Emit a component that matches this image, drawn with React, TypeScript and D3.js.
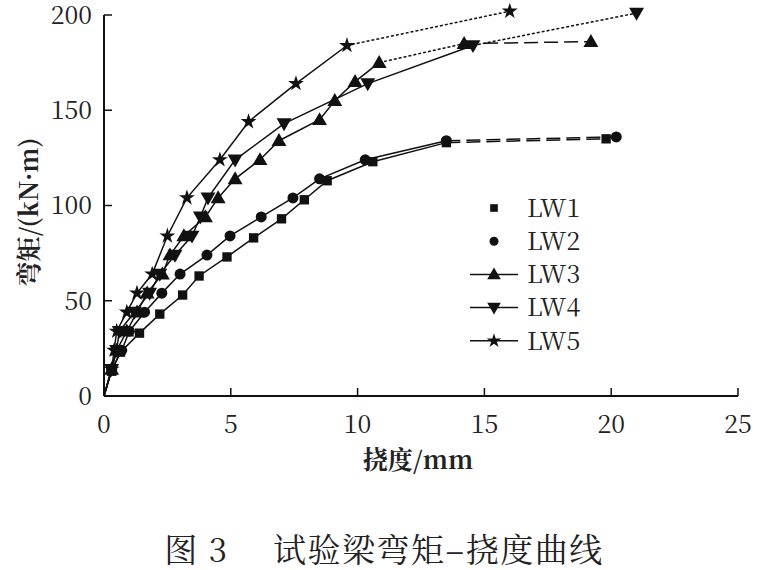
import React from "react";
import * as d3 from "d3";

const seriesNames = ["LW1", "LW2", "LW3", "LW4", "LW5"];
const markerTypes = ["square", "circle", "triangle", "invtriangle", "star"];

const lw1: [number, number][] = [[0, 0], [0.3, 13], [0.65, 23], [1.4, 33], [2.2, 43], [3.1, 53], [3.75, 63], [4.85, 73], [5.9, 83], [7.0, 93], [7.9, 103], [8.8, 113], [10.6, 123], [13.5, 133], [19.8, 135]];
const lw2: [number, number][] = [[0, 0], [0.3, 14], [0.7, 24], [1.0, 34], [1.6, 44], [2.28, 54], [3.0, 64], [4.06, 74], [4.97, 84], [6.2, 94], [7.45, 104], [8.5, 114], [10.3, 124], [13.5, 134], [20.2, 136]];
const lw3: [number, number][] = [[0, 0], [0.3, 14], [0.5, 24], [0.9, 34], [1.3, 44], [1.7, 54], [2.3, 64], [2.6, 74], [3.15, 84], [4.0, 94], [4.5, 104], [5.17, 114], [6.15, 124], [6.9, 134], [8.5, 145], [9.1, 155], [9.9, 165], [10.85, 175], [14.2, 185], [19.2, 186]];
const lw4: [number, number][] = [[0, 0], [0.3, 14], [0.5, 24], [0.6, 34], [1.2, 44], [1.8, 54], [2.2, 64], [2.8, 74], [3.47, 84], [3.8, 94], [4.1, 104], [5.17, 124], [7.1, 143], [10.4, 164], [14.55, 184], [21.0, 201]];
const lw5: [number, number][] = [[0, 0], [0.3, 14], [0.4, 24], [0.5, 34], [0.9, 44], [1.3, 54], [1.9, 64], [2.5, 84], [3.27, 104], [4.57, 124], [5.7, 144], [7.57, 164], [9.58, 184], [16.0, 202]];
const seriesData = [lw1, lw2, lw3, lw4, lw5];
// dash styles of the final segments, in order
const tailStyles: string[][] = [
  ["14 6"],
  ["14 6"],
  ["3 2", "14 6"],
  ["3 2"],
  ["3 2"],
];

const xTicks = [0, 5, 10, 15, 20, 25];
const yTicks = [0, 50, 100, 150, 200];

const xTitle = "挠度/mm";
const yTitle = "弯矩/(kN·m)";
const caption = "图 3　 试验梁弯矩–挠度曲线";

const serif = '"Noto Serif CJK SC", "Liberation Serif", serif';

function Marker({ type, x, y, s = 5.5 }: { type: string; x: number; y: number; s?: number }) {
  if (type === "square") return <rect x={x - s * 0.85} y={y - s * 0.85} width={s * 1.7} height={s * 1.7} fill="#111" />;
  if (type === "circle") return <circle cx={x} cy={y} r={s} fill="#111" />;
  if (type === "triangle") {
    const p = d3.symbol(d3.symbolTriangle, s * s * 3.2)();
    return <path d={p || ""} transform={`translate(${x},${y + 1})`} fill="#111" />;
  }
  if (type === "invtriangle") {
    const p = d3.symbol(d3.symbolTriangle, s * s * 3.2)();
    return <path d={p || ""} transform={`translate(${x},${y - 1}) rotate(180)`} fill="#111" />;
  }
  const p = d3.symbol(d3.symbolStar, s * s * 2.6)();
  return <path d={p || ""} transform={`translate(${x},${y})`} fill="#111" />;
}

export default function App() {
  const W = 760, H = 570;
  const x = d3.scaleLinear().domain([0, 25]).range([104, 738]);
  const y = d3.scaleLinear().domain([0, 200]).range([396, 15]);
  const line = d3.line<[number, number]>().x((d) => x(d[0])).y((d) => y(d[1]));
  const tf = { fontFamily: serif };

  return (
    <svg width={W} height={H} style={{ position: "absolute", left: 0, top: 0, background: "#fff" }}>
      {seriesData.map((data, si) => {
        const tails = tailStyles[si];
        const nSolid = data.length - tails.length;
        const solid = data.slice(0, nSolid);
        return (
          <g key={si}>
            <path d={line(solid) || ""} fill="none" stroke="#111" strokeWidth={1.5} />
            {tails.map((dash, ti) => {
              const a = data[nSolid - 1 + ti];
              const b = data[nSolid + ti];
              return <path key={ti} d={line([a, b]) || ""} fill="none" stroke="#111" strokeWidth={1.5} strokeDasharray={dash} />;
            })}
          </g>
        );
      })}
      {seriesData.map((data, si) => (
        <g key={"m" + si}>
          {data.slice(1).map((d, i) => (
            <Marker key={i} type={markerTypes[si]} x={x(d[0])} y={y(d[1])} />
          ))}
        </g>
      ))}

      <line x1={x(0)} x2={x(0)} y1={y(200)} y2={y(0)} stroke="#111" strokeWidth={2} />
      <line x1={x(0)} x2={x(25)} y1={y(0)} y2={y(0)} stroke="#111" strokeWidth={2} />
      {yTicks.map((t) => (
        <g key={"y" + t}>
          <line x1={x(0)} x2={x(0) + 8} y1={y(t)} y2={y(t)} stroke="#111" strokeWidth={1.5} />
          <text x={92} y={y(t)} dy="0.35em" textAnchor="end" style={tf} fontSize={25} fill="#222">{t}</text>
        </g>
      ))}
      {xTicks.map((t) => (
        <g key={"x" + t}>
          <line x1={x(t)} x2={x(t)} y1={y(0)} y2={y(0) - 8} stroke="#111" strokeWidth={1.5} />
          <text x={x(t)} y={433} textAnchor="middle" style={tf} fontSize={25} fill="#222">{t}</text>
        </g>
      ))}
      <text x={418} y={469} textAnchor="middle" style={tf} fontSize={25} fontWeight="bold" fill="#222">{xTitle}</text>
      <text transform={`translate(38,212) rotate(-90)`} textAnchor="middle" style={tf} fontSize={25} fontWeight="bold" fill="#222">{yTitle}</text>

      {seriesNames.map((n, i) => {
        const ly = 208 + i * 33.2;
        return (
          <g key={n}>
            {i >= 2 && <line x1={470} x2={518} y1={ly} y2={ly} stroke="#111" strokeWidth={1.5} />}
            <Marker type={markerTypes[i]} x={494} y={ly} s={i < 2 ? 4.5 : 5} />
            <text x={527} y={ly} dy="0.35em" style={tf} fontSize={25} fill="#222">{n}</text>
          </g>
        );
      })}

      <text x={384} y={562} textAnchor="middle" style={tf} fontSize={33} letterSpacing={1.5} fill="#222">{caption}</text>
    </svg>
  );
}
